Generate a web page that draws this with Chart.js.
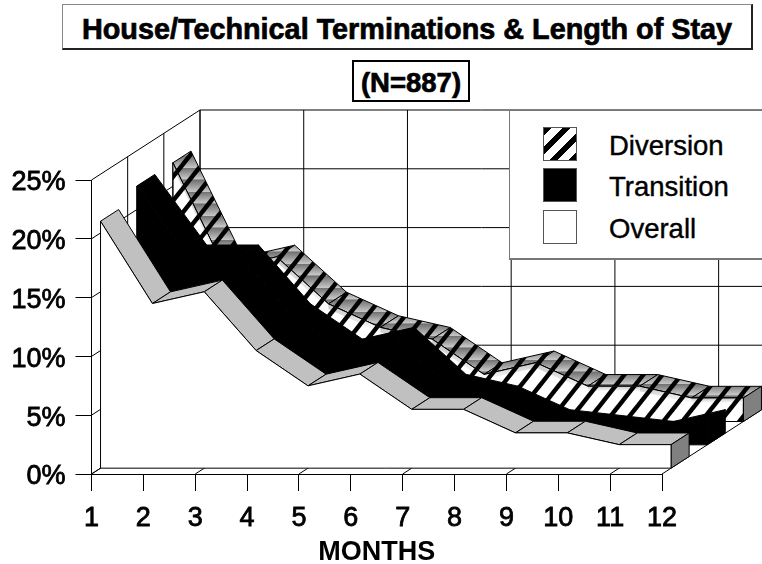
<!DOCTYPE html>
<html>
<head>
<meta charset="utf-8">
<title>House/Technical Terminations & Length of Stay</title>
<script src="https://cdn.jsdelivr.net/npm/chart.js@4"></script>
<style>
    body { margin: 0; background: #fff; overflow: hidden; font-family: "Liberation Sans", Arial, sans-serif; color: #000; }
    #wrap { position: relative; width: 762px; height: 564px; overflow: hidden; }
    canvas { position: absolute; left: 0; top: 0; }
    .box { position: absolute; box-sizing: border-box; display: flex; align-items: center; justify-content: center; font-weight: bold; white-space: nowrap; background: #fff; -webkit-text-stroke: 0.7px #000; }
    #title { left: 62px; top: 4px; width: 691px; height: 46px; padding-top: 5px; font-size: 28.8px; border: 1px solid #888; border-right: 2px solid #222; border-bottom: 2px solid #222; }
    #subtitle { left: 352px; top: 60px; width: 118px; height: 42px; padding-top: 3px; font-size: 27.5px; border: 2px solid #000; }
    #legend { position: absolute; left: 509px; top: 110px; width: 260px; height: 150px; box-sizing: border-box; background: #fff; border: 1px solid #777; border-bottom: 2px solid #777; }
    .swatch { position: absolute; left: 33px; width: 34px; height: 34px; box-sizing: border-box; border: 1px solid #555; }
    .label { position: absolute; left: 99px; font-size: 27.5px; line-height: 34px; margin-top: 2px; -webkit-text-stroke: 0.4px #000; }
</style>
</head>
<body>
<div id="wrap">
    <canvas id="myChart" width="762" height="564"></canvas>
    <div class="box" id="title">House/Technical Terminations &amp; Length of Stay</div>
    <div class="box" id="subtitle">(N=887)</div>
    <div id="legend"></div>
</div>
<script>
const months = ["1", "2", "3", "4", "5", "6", "7", "8", "9", "10", "11", "12"];
const diversionValues = [22, 13, 14, 10, 8, 7, 4, 5, 3, 3, 2, 2];
const transitionValues = [22, 16, 16, 11, 8, 9, 5, 4, 2, 1.5, 1, 2];
const overallValues = [21, 14, 15, 10, 7, 8, 5, 5, 3, 3, 2, 2];
const seriesNames = ["Diversion", "Transition", "Overall"];
const gridMonths = [0, 2, 4, 6, 8, 10];
const gridValues = [0, 5, 10, 15, 20, 25];

// shift of the whole depth of the box, in pixels
const DEPTH_X = 108.5;
const DEPTH_Y = -70;

const tileW = 19;
const tileH = 24;

const makeTile = (background) => {
    const tile = document.createElement("canvas");
    tile.width = tileW;
    tile.height = tileH;
    const c = tile.getContext("2d");
    if (background) {
        background(c);
    }
    c.strokeStyle = "#000";
    c.lineWidth = 4.5;
    [-tileW, 0, tileW].forEach(shift => {
        c.beginPath();
        c.moveTo(shift - tileW * 0.25, tileH * 1.25);
        c.lineTo(shift + tileW * 1.25, -tileH * 0.25);
        c.stroke();
    });
    return tile;
};

// gray banded tile for the top of the Diversion ribbon
const grayBands = (c) => {
    const g = c.createLinearGradient(0, 0, 0, tileH);
    g.addColorStop(0, "#707070");
    g.addColorStop(0.45, "#c8c8c8");
    g.addColorStop(0.5, "#707070");
    g.addColorStop(1, "#c8c8c8");
    c.fillStyle = g;
    c.fillRect(0, 0, tileW, tileH);
};

const ctx = document.getElementById("myChart").getContext("2d");
const stripeTop = ctx.createPattern(makeTile(grayBands), "repeat");
const stripeFront = ctx.createPattern(makeTile(null), "repeat");
const stripeShift = new DOMMatrix().translate(9, 0);
stripeTop.setTransform(stripeShift);
stripeFront.setTransform(stripeShift);

// each ribbon takes the middle half of its third of the depth
const depthOf = (index) => ({
    front: (2 - index + 0.25) / 3,
    back: (2 - index + 0.75) / 3
});

const ribbonStyles = [
    { top: stripeTop, front: "#fff", hatch: stripeFront, cap: "#808080" },
    { top: "#000", front: "#000", hatch: null, cap: "#000" },
    { top: "#c0c0c0", front: "#fff", hatch: null, cap: "#808080" }
];

const polygon = (c, pts, fill) => {
    c.beginPath();
    pts.forEach((p, i) => {
        if (i === 0) {
            c.moveTo(p.x, p.y);
        } else {
            c.lineTo(p.x, p.y);
        }
    });
    c.closePath();
    if (fill) {
        c.fillStyle = fill;
        c.fill();
    }
};

const drawRibbon = (chart, index) => {
    const c = chart.ctx;
    const style = ribbonStyles[index];
    const depth = depthOf(index);
    const points = chart.getDatasetMeta(index).data;
    const floor = chart.scales.y.getPixelForValue(0);
    const at = (p, d) => ({ x: p.x + DEPTH_X * d, y: p.y + DEPTH_Y * d });
    const floorAt = (p, d) => ({ x: p.x + DEPTH_X * d, y: floor + DEPTH_Y * d });

    c.lineWidth = 1;
    c.strokeStyle = "#000";

    // top surface, left to right
    for (let i = 0; i < points.length - 1; i++) {
        polygon(c, [at(points[i], depth.front), at(points[i + 1], depth.front), at(points[i + 1], depth.back), at(points[i], depth.back)], style.top);
        c.stroke();
    }

    // end cap on the right
    const last = points[points.length - 1];
    polygon(c, [at(last, depth.front), at(last, depth.back), floorAt(last, depth.back), floorAt(last, depth.front)], style.cap);
    c.stroke();

    // front face down to the floor
    const face = points.map(p => at(p, depth.front));
    face.push(floorAt(last, depth.front), floorAt(points[0], depth.front));
    polygon(c, face, style.front);
    c.stroke();

    if (style.hatch) {
        // light band under the edge, then the stripes over everything
        c.save();
        polygon(c, face);
        c.clip();
        for (let i = 0; i < points.length - 1; i++) {
            const a = at(points[i], depth.front);
            const b = at(points[i + 1], depth.front);
            const g = c.createLinearGradient(0, Math.min(a.y, b.y), 0, Math.max(a.y, b.y) + 5);
            g.addColorStop(0, "#c4c4c4");
            g.addColorStop(1, "#ffffff");
            polygon(c, [a, b, { x: b.x, y: b.y + 5 }, { x: a.x, y: a.y + 5 }], g);
        }
        polygon(c, face, style.hatch);
        c.restore();
        polygon(c, face);
        c.stroke();
    }
};

// the walls and floor of the box, behind the ribbons
const boxPlugin = {
    id: "box",
    beforeDatasetsDraw(chart) {
        const c = chart.ctx;
        const { x, y } = chart.scales;
        c.save();
        c.strokeStyle = "#000";
        c.lineWidth = 1;
        const seg = (x1, y1, x2, y2) => {
            c.beginPath();
            c.moveTo(x1, y1);
            c.lineTo(x2, y2);
            c.stroke();
        };
        const left = x.getPixelForValue(0);
        const right = x.getPixelForValue(11);
        gridValues.forEach(v => {
            const py = y.getPixelForValue(v);
            seg(left, py, left + DEPTH_X, py + DEPTH_Y);
            seg(left + DEPTH_X, py + DEPTH_Y, right + DEPTH_X, py + DEPTH_Y);
        });
        [1 / 3, 2 / 3, 1].forEach(d => {
            seg(left + DEPTH_X * d, y.getPixelForValue(25) + DEPTH_Y * d, left + DEPTH_X * d, y.getPixelForValue(0) + DEPTH_Y * d);
        });
        gridMonths.forEach(m => {
            const px = x.getPixelForValue(m);
            const top = y.getPixelForValue(25) + DEPTH_Y;
            const bottom = y.getPixelForValue(0);
            seg(px + DEPTH_X, top, px + DEPTH_X, bottom + DEPTH_Y);
            seg(px, bottom, px + DEPTH_X, bottom + DEPTH_Y);
        });
        seg(right, y.getPixelForValue(0), right + DEPTH_X, y.getPixelForValue(0) + DEPTH_Y);
        c.restore();
    },
    afterDatasetsDraw(chart) {
        chart.ctx.save();
        // back to front
        [0, 1, 2].forEach(i => drawRibbon(chart, i));
        chart.ctx.restore();
    }
};

const tickFont = { family: "'Liberation Sans', Arial, sans-serif", size: 27 };

new Chart(ctx, {
    type: "line",
    data: {
        labels: months,
        datasets: [
            { label: seriesNames[0], data: diversionValues },
            { label: seriesNames[1], data: transitionValues },
            { label: seriesNames[2], data: overallValues }
        ].map(d => ({ ...d, showLine: false, pointRadius: 0, pointHoverRadius: 0 }))
    },
    options: {
        responsive: false,
        animation: false,
        events: [],
        layout: { padding: { left: 0, right: 100, top: 180, bottom: 0 } },
        plugins: { legend: { display: false }, title: { display: false }, tooltip: { enabled: false } },
        scales: {
            x: {
                offset: false,
                afterFit: scale => { scale.height = 90; },
                grid: { drawOnChartArea: false, color: "#000", tickLength: 17 },
                border: { display: true, color: "#000" },
                ticks: { color: "#000", font: tickFont, padding: 11, maxRotation: 0, autoSkip: false, textStrokeColor: "#000", textStrokeWidth: 0.8 },
                title: { display: true, text: "MONTHS", color: "#000", font: { ...tickFont, weight: "bold" }, padding: { top: 0, bottom: -5 } }
            },
            y: {
                min: 0,
                max: 25,
                afterFit: scale => { scale.width = 91.5; },
                grid: { drawOnChartArea: false, color: "#000", tickLength: 16 },
                border: { display: true, color: "#000" },
                ticks: { stepSize: 5, color: "#000", font: tickFont, padding: 10, labelOffset: 3, callback: v => v + "%", textStrokeColor: "#000", textStrokeWidth: 0.8 }
            }
        }
    },
    plugins: [boxPlugin]
});

// legend on top of the chart, same order as the datasets
const legend = document.getElementById("legend");
const swatchFills = [
    "repeating-linear-gradient(135deg, #000 0 5.4px, #fff 5.4px 13.4px)",
    "#000",
    "#fff"
];
seriesNames.forEach((name, i) => {
    const rowTop = [16, 57, 99][i];
    const swatch = document.createElement("div");
    swatch.className = "swatch";
    swatch.style.top = rowTop + "px";
    swatch.style.background = swatchFills[i];
    legend.appendChild(swatch);
    const label = document.createElement("div");
    label.className = "label";
    label.style.top = rowTop + "px";
    label.textContent = name;
    legend.appendChild(label);
});
</script>
</body>
</html>
